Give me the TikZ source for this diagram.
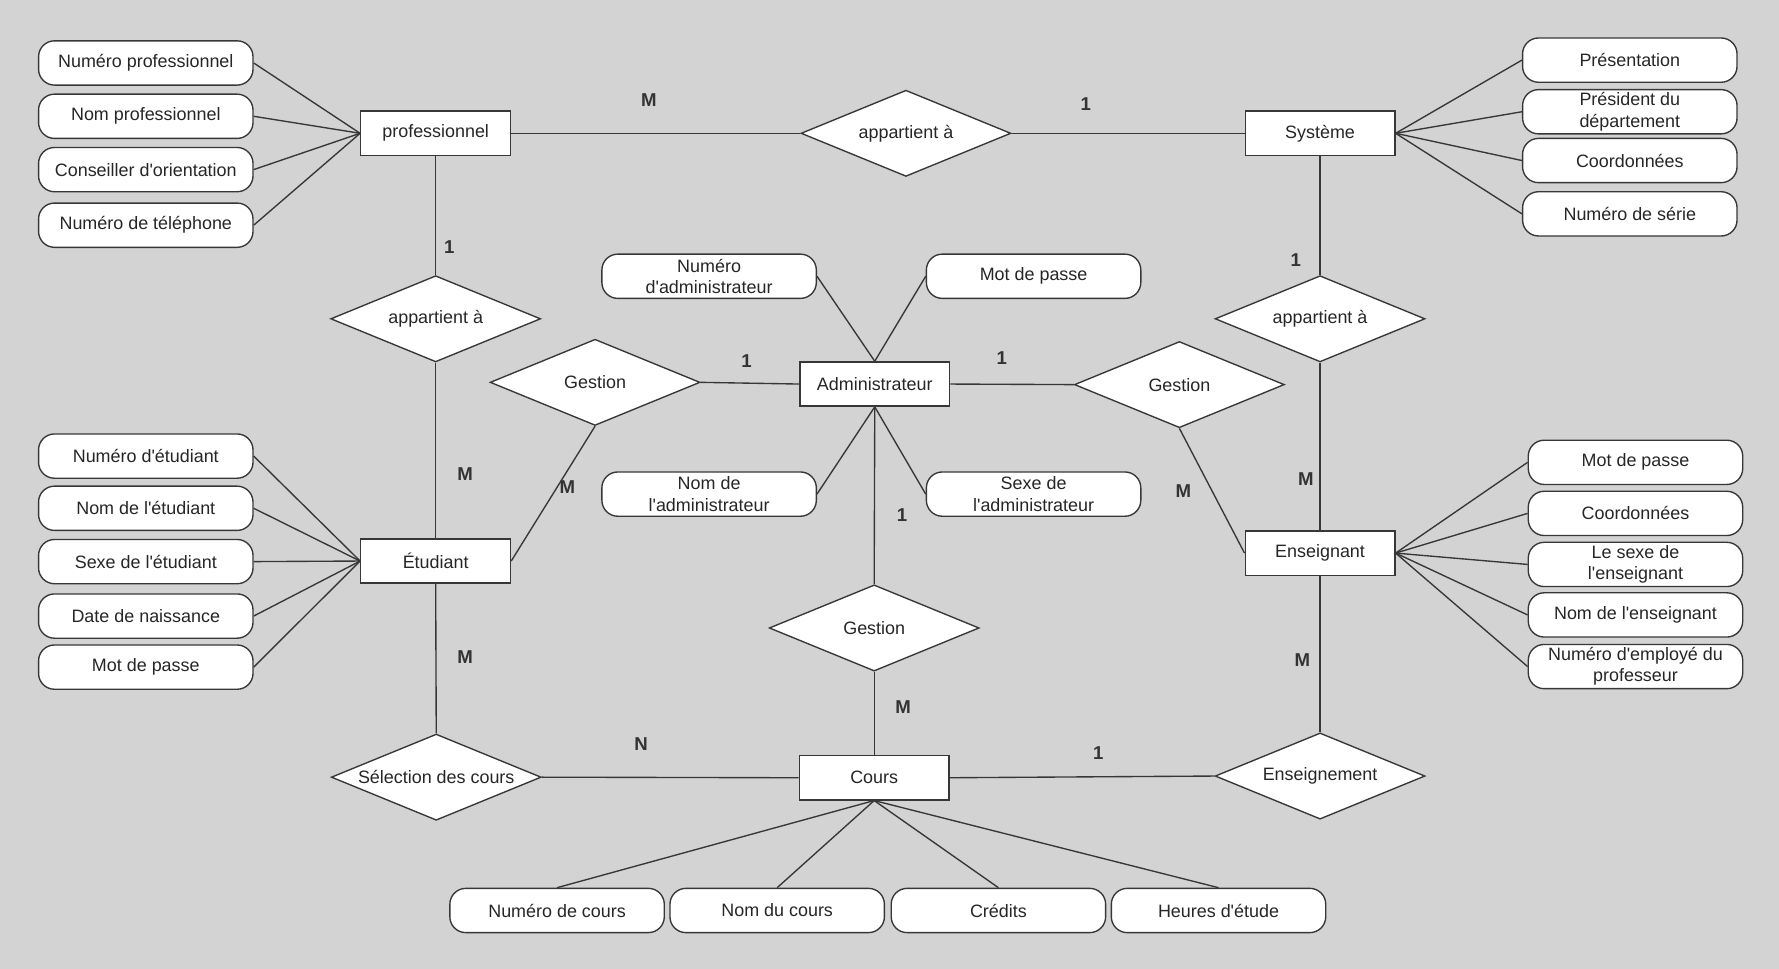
\documentclass[tikz,border=0pt]{standalone}
\usepackage{fontspec}
\setmainfont{Liberation Sans}
\usetikzlibrary{shapes.geometric}
\definecolor{bggray}{RGB}{211,211,211}
\definecolor{lngray}{RGB}{55,55,55}
\newcommand{\ap}{\textquotesingle}

\begin{document}
\begin{tikzpicture}[
  x=0.5pt, y=-0.5pt,
  font=\fontsize{7.9}{9.4}\selectfont,
  ent/.style={draw=lngray, fill=white, line width=0.6pt, minimum width=66pt,
              minimum height=19.5pt, inner sep=1pt, text=black!85},
  attr/.style={draw=lngray, fill=white, line width=0.6pt, rounded corners=7pt,
               minimum width=94.5pt, minimum height=19.5pt, inner sep=1pt,
               align=center, text=black!85},
  rel/.style={draw=lngray, fill=white, line width=0.6pt, diamond, aspect=2.5,
              inner sep=0pt, minimum width=92.5pt, minimum height=38pt, text=black!85},
  lnk/.style={draw=lngray, line width=0.6pt},
  card/.style={font=\fontsize{8.2}{9}\selectfont\bfseries, text=black!80, inner sep=1pt}
]
\path[use as bounding box, fill=bggray] (0,0) rectangle (1568,854);

% entities
\node[ent] (prof)  at (384,117.5)   {professionnel};
\node[ent] (sys)   at (1163.5,117.5) {Système};
\node[ent] (admin) at (771,338.5)   {Administrateur};
\node[ent] (etud)  at (384,494.5)   {Étudiant};
\node[ent] (ens)   at (1163.5,487.5) {Enseignant};
\node[ent] (cours) at (770.5,685.5) {Cours};

% relations
\node[rel] (rtop)  at (798.5,117.5) {appartient à};
\node[rel] (rprof) at (384,281)     {appartient à};
\node[rel] (rsys)  at (1163.5,281)  {appartient à};
\node[rel] (gestl) at (524.5,337)   {Gestion};
\node[rel] (gestr) at (1039.5,339)  {Gestion};
\node[rel] (gestm) at (770.5,553.5) {Gestion};
\node[rel] (sel)   at (384.5,685)   {Sélection des cours};
\node[rel] (enseig) at (1163.5,684) {Enseignement};

% attributes of professionnel
\node[attr] (pnum)  at (128.5,55.5)  {Numéro professionnel};
\node[attr] (pnom)  at (128.5,102.5) {Nom professionnel};
\node[attr] (pcons) at (128.5,149.5) {Conseiller d\ap orientation};
\node[attr] (ptel)  at (128.5,198.5) {Numéro de téléphone};

% attributes of Étudiant
\node[attr] (enum)  at (128.5,402)   {Numéro d\ap étudiant};
\node[attr] (enom)  at (128.5,448)   {Nom de l\ap étudiant};
\node[attr] (esexe) at (128.5,495)   {Sexe de l\ap étudiant};
\node[attr] (edate) at (128.5,543)   {Date de naissance};
\node[attr] (emdp)  at (128.5,588)   {Mot de passe};

% attributes of Système
\node[attr] (spres) at (1436.5,53)   {Présentation};
\node[attr] (sdep)  at (1436.5,98.5) {Président du\\département};
\node[attr] (scoor) at (1436.5,141.5) {Coordonnées};
\node[attr] (sser)  at (1436.5,188.5) {Numéro de série};

% attributes of Enseignant
\node[attr] (tmdp)  at (1441.5,407.5) {Mot de passe};
\node[attr] (tcoor) at (1441.5,452.5) {Coordonnées};
\node[attr] (tsexe) at (1441.5,497.5) {Le sexe de\\l\ap enseignant};
\node[attr] (tnom)  at (1441.5,542)   {Nom de l\ap enseignant};
\node[attr] (tnum)  at (1441.5,587.5) {Numéro d\ap employé du\\professeur};

% attributes of Administrateur
\node[attr] (anum)  at (625,243.5) {Numéro\\d\ap administrateur};
\node[attr] (amdp)  at (911,243.5) {Mot de passe};
\node[attr] (anom)  at (625,435.5) {Nom de\\l\ap administrateur};
\node[attr] (asexe) at (911,435.5) {Sexe de\\l\ap administrateur};

% attributes of Cours
\node[attr] (cnum)  at (491,802.5)  {Numéro de cours};
\node[attr] (cnom)  at (685,802.5)  {Nom du cours};
\node[attr] (ccred) at (880,802.5)  {Crédits};
\node[attr] (cheur) at (1074,802.5) {Heures d\ap étude};

% attribute links
\draw[lnk] (prof.west) -- (pnum.east);
\draw[lnk] (prof.west) -- (pnom.east);
\draw[lnk] (prof.west) -- (pcons.east);
\draw[lnk] (prof.west) -- (ptel.east);
\draw[lnk] (etud.west) -- (enum.east);
\draw[lnk] (etud.west) -- (enom.east);
\draw[lnk] (etud.west) -- (esexe.east);
\draw[lnk] (etud.west) -- (edate.east);
\draw[lnk] (etud.west) -- (emdp.east);
\draw[lnk] (sys.east) -- (spres.west);
\draw[lnk] (sys.east) -- (sdep.west);
\draw[lnk] (sys.east) -- (scoor.west);
\draw[lnk] (sys.east) -- (sser.west);
\draw[lnk] (ens.east) -- (tmdp.west);
\draw[lnk] (ens.east) -- (tcoor.west);
\draw[lnk] (ens.east) -- (tsexe.west);
\draw[lnk] (ens.east) -- (tnom.west);
\draw[lnk] (ens.east) -- (tnum.west);
\draw[lnk] (admin.north) -- (anum.east);
\draw[lnk] (admin.north) -- (amdp.west);
\draw[lnk] (admin.south) -- (anom.east);
\draw[lnk] (admin.south) -- (asexe.west);
\draw[lnk] (cours.south) -- (cnum.north);
\draw[lnk] (cours.south) -- (cnom.north);
\draw[lnk] (cours.south) -- (ccred.north);
\draw[lnk] (cours.south) -- (cheur.north);

% relation links
\draw[lnk] (prof.east) -- (rtop.west);
\draw[lnk] (rtop.east) -- (sys.west);
\draw[lnk] (prof.south) -- (rprof.north);
\draw[lnk] (rprof.south) -- (etud.north);
\draw[lnk] (sys.south) -- (rsys.north);
\draw[lnk] (rsys.south) -- (ens.north);
\draw[lnk] (gestl.east) -- (admin.west);
\draw[lnk] (gestl.south) -- (etud.east);
\draw[lnk] (admin.east) -- (gestr.west);
\draw[lnk] (gestr.south) -- (ens.west);
\draw[lnk] (admin.south) -- (gestm.north);
\draw[lnk] (gestm.south) -- (cours.north);
\draw[lnk] (etud.south) -- (sel.north);
\draw[lnk] (sel.east) -- (cours.west);
\draw[lnk] (cours.east) -- (enseig.west);
\draw[lnk] (ens.south) -- (enseig.north);

% cardinalities
\node[card] (k1)  at (572,88)   {M};
\node[card] (k2)  at (957,92)   {1};
\node[card] (k3)  at (396,218)  {1};
\node[card] (k4)  at (410,418)  {M};
\node[card] (k5)  at (1142,229) {1};
\node[card] (k6)  at (1151,422) {M};
\node[card] (k7)  at (658,318)  {1};
\node[card] (k8)  at (500,429)  {M};
\node[card] (k9)  at (883,316)  {1};
\node[card] (k10) at (1043,433) {M};
\node[card] (k11) at (795,454)  {1};
\node[card] (k12) at (796,623)  {M};
\node[card] (k13) at (410,579)  {M};
\node[card] (k14) at (565,656)  {N};
\node[card] (k15) at (968,664)  {1};
\node[card] (k16) at (1148,582) {M};
\end{tikzpicture}
\end{document}
